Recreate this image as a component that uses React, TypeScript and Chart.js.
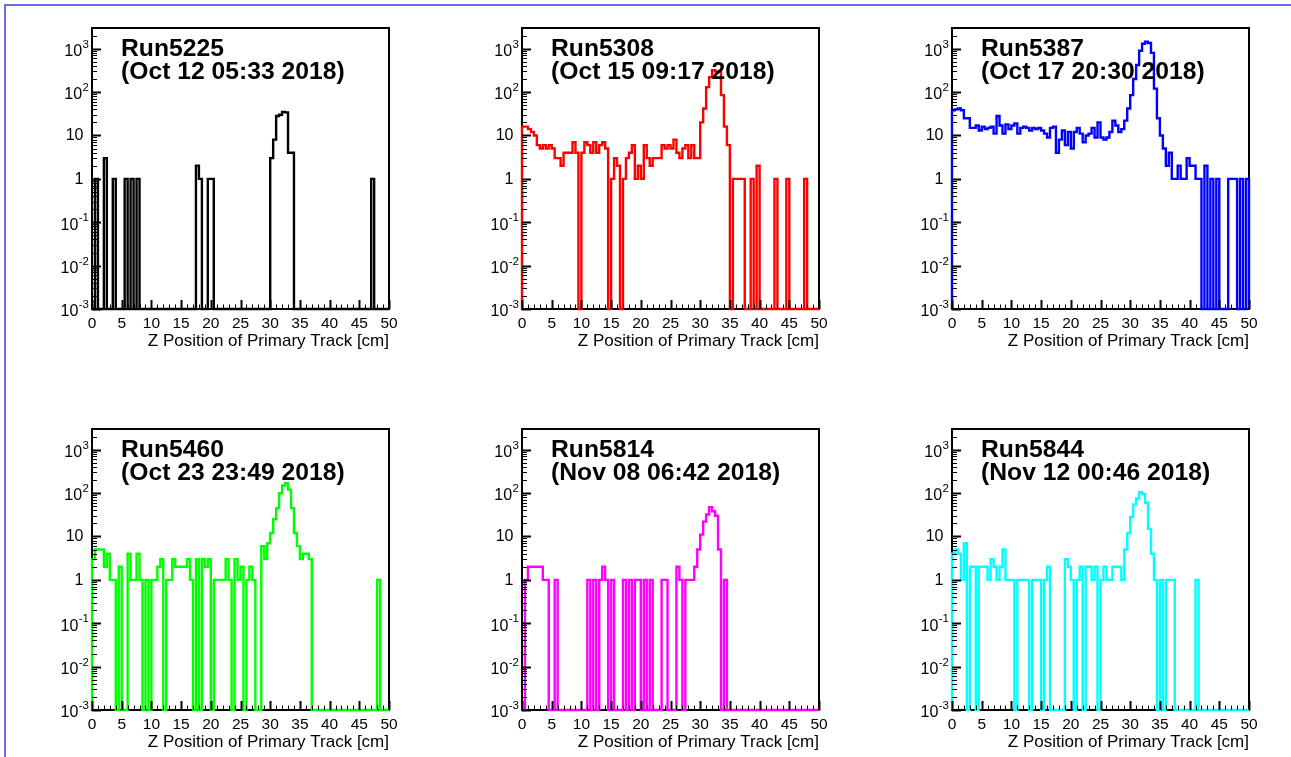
import React, { useEffect, useRef } from 'react';
import { Chart, registerables } from 'chart.js';

Chart.register(...registerables);

// ---------- data ----------
// 100 bins of 0.5 cm from 0 to 50 cm (counts per bin)
const X_MIN = 0;
const X_MAX = 50;
const BIN_WIDTH = 0.5;
const Y_MIN = 1e-3;
const Y_MAX = 3000;

const xTickStep = 5;
const yDecadeExponents = [-3, -2, -1, 0, 1, 2, 3];
const xAxisTitle = 'Z Position of Primary Track [cm]';

const runNames = ['Run5225', 'Run5308', 'Run5387', 'Run5460', 'Run5814', 'Run5844'];
const runDates = [
  '(Oct 12 05:33 2018)',
  '(Oct 15 09:17 2018)',
  '(Oct 17 20:30 2018)',
  '(Oct 23 23:49 2018)',
  '(Nov 08 06:42 2018)',
  '(Nov 12 00:46 2018)',
];
const runColors = ['#000000', '#ff0000', '#0000ff', '#00ff00', '#ff00ff', '#00ffff'];

const run5225 = [
  0, 1, 0, 0, 3, 0, 0, 1, 0, 0,
  0, 1, 0, 1, 0, 1, 0, 0, 0, 0,
  0, 0, 0, 0, 0, 0, 0, 0, 0, 0,
  0, 0, 0, 0, 0, 2, 1, 0, 0, 1,
  1, 0, 0, 0, 0, 0, 0, 0, 0, 0,
  0, 0, 0, 0, 0, 0, 0, 0, 0, 0,
  3, 8, 28, 30, 35, 34, 4, 4, 0, 0,
  0, 0, 0, 0, 0, 0, 0, 0, 0, 0,
  0, 0, 0, 0, 0, 0, 0, 0, 0, 0,
  0, 0, 0, 0, 1, 0, 0, 0, 0, 0,
];

const run5308 = [
  16, 16, 14, 12, 10, 6, 5, 6, 5, 6,
  5, 3, 3, 2, 4, 4, 4, 7, 4, 0,
  4, 7, 6, 4, 7, 4, 6, 7, 5, 0,
  1, 3, 2, 0, 1, 3, 4, 6, 1, 2,
  1, 6, 3, 2, 3, 3, 3, 6, 5, 6,
  5, 8, 4, 3, 5, 6, 3, 6, 3, 3,
  20, 42, 130, 220, 320, 300, 300, 85, 16, 6,
  0, 1, 1, 1, 1, 0, 0, 1, 0, 2,
  0, 0, 0, 0, 0, 1, 0, 0, 0, 1,
  0, 0, 0, 0, 0, 1, 0, 0, 0, 0,
];

const run5387 = [
  38, 40, 42, 38, 25, 25, 15, 15, 17, 13,
  16, 14, 15, 16, 11, 28, 17, 11, 18, 14,
  17, 19, 11, 15, 16, 15, 13, 15, 14, 15,
  13, 11, 9, 15, 16, 4, 8, 13, 6, 12,
  5, 12, 15, 11, 7, 10, 11, 15, 9, 20,
  9, 8, 9, 12, 22, 17, 12, 14, 22, 42,
  85, 200, 420, 900, 1300, 1450, 1350, 800, 120, 25,
  10, 5, 2, 4, 1, 1, 2, 1, 1, 3,
  2, 2, 1, 1, 0, 2, 0, 1, 0, 1,
  0, 0, 0, 1, 1, 1, 0, 1, 0, 1,
];

const run5460 = [
  3, 5, 5, 5, 2, 4, 1, 1, 0, 2,
  0, 0, 4, 1, 1, 4, 1, 0, 1, 0,
  1, 1, 2, 3, 0, 1, 1, 3, 2, 2,
  2, 2, 3, 1, 0, 3, 0, 3, 2, 3,
  0, 1, 1, 1, 1, 3, 1, 0, 3, 1,
  2, 0, 1, 2, 1, 0, 0, 6, 3, 7,
  12, 25, 45, 100, 150, 170, 120, 45, 12, 6,
  3, 4, 4, 3, 0, 0, 0, 0, 0, 0,
  0, 0, 0, 0, 0, 0, 0, 0, 0, 0,
  0, 0, 0, 0, 0, 0, 1, 0, 0, 0,
];

const run5814 = [
  0, 1, 2, 2, 2, 2, 2, 1, 1, 0,
  0, 1, 0, 0, 0, 0, 0, 0, 0, 0,
  0, 0, 1, 0, 1, 0, 1, 2, 1, 0,
  1, 0, 0, 0, 1, 0, 1, 0, 1, 1,
  0, 1, 0, 1, 0, 0, 0, 1, 1, 0,
  0, 0, 2, 1, 0, 1, 1, 1, 2, 5,
  11, 22, 32, 47, 38, 30, 5, 0, 1, 0,
  0, 0, 0, 0, 0, 0, 0, 0, 0, 0,
  0, 0, 0, 0, 0, 0, 0, 0, 0, 0,
  0, 0, 0, 0, 0, 0, 0, 0, 0, 0,
];

const run5844 = [
  4, 5, 4, 1, 7, 0, 2, 2, 0, 2,
  2, 2, 1, 3, 2, 1, 2, 5, 1, 1,
  1, 0, 1, 1, 1, 1, 0, 1, 1, 1,
  0, 1, 2, 0, 0, 0, 0, 0, 3, 2,
  1, 0, 1, 2, 0, 2, 2, 1, 2, 0,
  1, 2, 1, 1, 2, 2, 2, 1, 5, 12,
  28, 55, 75, 105, 95, 60, 15, 4, 1, 0,
  1, 0, 1, 1, 1, 0, 0, 0, 0, 0,
  0, 0, 1, 0, 0, 0, 0, 0, 0, 0,
  0, 0, 0, 0, 0, 0, 0, 0, 0, 0,
];

const runCounts = [run5225, run5308, run5387, run5460, run5814, run5844];

// ---------- layout ----------
const FONT = '"Liberation Sans", Arial, Helvetica, sans-serif';
const PANEL_LEFTS = [92, 522, 952];
const PANEL_TOPS = [28, 429];
const PLOT_W = 297;
const PLOT_H = 281;
const PAD_LEFT = 70;
const PAD_TOP = 12;
const PAD_RIGHT = 20;
const X_AXIS_H = 46;
const CANVAS_W = PAD_LEFT + PLOT_W + PAD_RIGHT;
const CANVAS_H = PAD_TOP + PLOT_H + X_AXIS_H;

function histPoints(counts: number[]) {
  const pts: { x: number; y: number }[] = [{ x: X_MIN, y: Y_MIN }];
  counts.forEach((c, i) => {
    pts.push({ x: X_MIN + i * BIN_WIDTH, y: Math.max(c, Y_MIN) });
  });
  pts.push({ x: X_MAX, y: Math.max(counts[counts.length - 1], Y_MIN) });
  pts.push({ x: X_MAX, y: Y_MIN });
  return pts;
}

const frameBefore = {
  id: 'frameBefore',
  beforeDatasetsDraw(chart: any) {
    const { ctx, chartArea: a } = chart;
    ctx.save();
    ctx.strokeStyle = '#000';
    ctx.lineWidth = 2;
    ctx.strokeRect(a.left, a.top, a.right - a.left, a.bottom - a.top);
    ctx.restore();
  },
};

const rootDecor = {
  id: 'rootDecor',
  afterDatasetsDraw(chart: any) {
    const { ctx, chartArea: a, scales } = chart;
    const xs = scales.x;
    const ys = scales.y;
    const opts = chart.options.plugins.rootDecor;
    ctx.save();
    ctx.strokeStyle = '#000';
    // x ticks (inside, pointing up)
    for (let v = X_MIN; v <= X_MAX; v += 1) {
      const major = v % xTickStep === 0;
      const px = Math.round(xs.getPixelForValue(v)) + 0.5;
      ctx.lineWidth = major ? 2 : 1;
      ctx.beginPath();
      ctx.moveTo(px, a.bottom);
      ctx.lineTo(px, a.bottom - (major ? 9 : 4.5));
      ctx.stroke();
    }
    // y ticks (inside, pointing right)
    yDecadeExponents.forEach((e) => {
      for (let m = 1; m <= 9; m++) {
        const v = m * Math.pow(10, e);
        if (v > Y_MAX) break;
        const py = Math.round(ys.getPixelForValue(v)) + 0.5;
        ctx.lineWidth = m === 1 ? 2 : 1;
        ctx.beginPath();
        ctx.moveTo(a.left, py);
        ctx.lineTo(a.left + (m === 1 ? 9 : 5), py);
        ctx.stroke();
      }
    });
    // y labels with superscripts
    ctx.fillStyle = '#000';
    ctx.textBaseline = 'middle';
    yDecadeExponents.forEach((e) => {
      const py = ys.getPixelForValue(Math.pow(10, e));
      if (e === 0 || e === 1) {
        ctx.font = `16px ${FONT}`;
        ctx.textAlign = 'right';
        ctx.fillText(e === 0 ? '1' : '10', a.left - 8.5, py + 0.5);
      } else {
        const sup = String(e);
        ctx.font = `11.5px ${FONT}`;
        const wSup = ctx.measureText(sup).width;
        ctx.textAlign = 'right';
        const right = a.left - 3;
        ctx.fillText(sup, right, py - 4);
        ctx.font = `16px ${FONT}`;
        ctx.fillText('10', right - wSup - 0.5, py + 3);
      }
    });
    // run title text
    ctx.textAlign = 'left';
    ctx.textBaseline = 'alphabetic';
    ctx.font = `bold 24.7px ${FONT}`;
    ctx.fillText(opts.name, a.left + 29, a.top + 27.5);
    ctx.fillText(opts.date, a.left + 29, a.top + 51);
    ctx.restore();
  },
};

function Panel({ idx }: { idx: number }) {
  const ref = useRef<HTMLCanvasElement | null>(null);
  useEffect(() => {
    const canvas = ref.current;
    if (!canvas) return;
    const chart = new Chart(canvas, {
      type: 'line',
      data: {
        datasets: [
          {
            data: histPoints(runCounts[idx]),
            borderColor: runColors[idx],
            borderWidth: 2.4,
            pointRadius: 0,
            stepped: true,
            fill: false,
            tension: 0,
            clip: false as any,
            borderJoinStyle: 'miter',
            borderCapStyle: 'butt',
          } as any,
        ],
      },
      options: {
        animation: false,
        responsive: false,
        maintainAspectRatio: false,
        events: [],
        layout: { padding: { left: 0, top: PAD_TOP, right: PAD_RIGHT, bottom: 0 } },
        plugins: {
          legend: { display: false },
          tooltip: { enabled: false },
          rootDecor: { name: runNames[idx], date: runDates[idx] },
        } as any,
        scales: {
          x: {
            type: 'linear',
            min: X_MIN,
            max: X_MAX,
            grid: { display: false, drawTicks: false },
            border: { display: false },
            ticks: {
              stepSize: xTickStep,
              autoSkip: false,
              maxRotation: 0,
              padding: 5.5,
              color: '#000',
              font: { family: FONT, size: 15.5 },
            },
            title: {
              display: true,
              text: xAxisTitle,
              align: 'end',
              color: '#000',
              font: { family: FONT, size: 17 },
              padding: { top: 0, bottom: 3.5 },
            },
            afterFit: (s: any) => {
              s.height = X_AXIS_H;
            },
          },
          y: {
            type: 'logarithmic',
            min: Y_MIN,
            max: Y_MAX,
            grid: { display: false, drawTicks: false },
            border: { display: false },
            ticks: { display: false },
            afterFit: (s: any) => {
              s.width = PAD_LEFT;
            },
          },
        } as any,
      },
      plugins: [frameBefore, rootDecor],
    });
    return () => chart.destroy();
  }, [idx]);
  const col = idx % 3;
  const row = Math.floor(idx / 3);
  return (
    <canvas
      ref={ref}
      width={CANVAS_W}
      height={CANVAS_H}
      style={{
        position: 'absolute',
        left: PANEL_LEFTS[col] - PAD_LEFT,
        top: PANEL_TOPS[row] - PAD_TOP,
        width: CANVAS_W,
        height: CANVAS_H,
      }}
    />
  );
}

export default function App() {
  return (
    <div
      style={{
        position: 'fixed',
        left: 0,
        top: 0,
        width: 1291,
        height: 757,
        background: '#fff',
        overflow: 'hidden',
      }}
    >
      <div
        style={{
          position: 'absolute',
          left: 4,
          top: 4,
          width: 1400,
          height: 900,
          borderTop: '2px solid rgb(108,108,245)',
          borderLeft: '2px solid rgb(108,108,245)',
        }}
      />
      {runNames.map((_, i) => (
        <Panel key={i} idx={i} />
      ))}
    </div>
  );
}
